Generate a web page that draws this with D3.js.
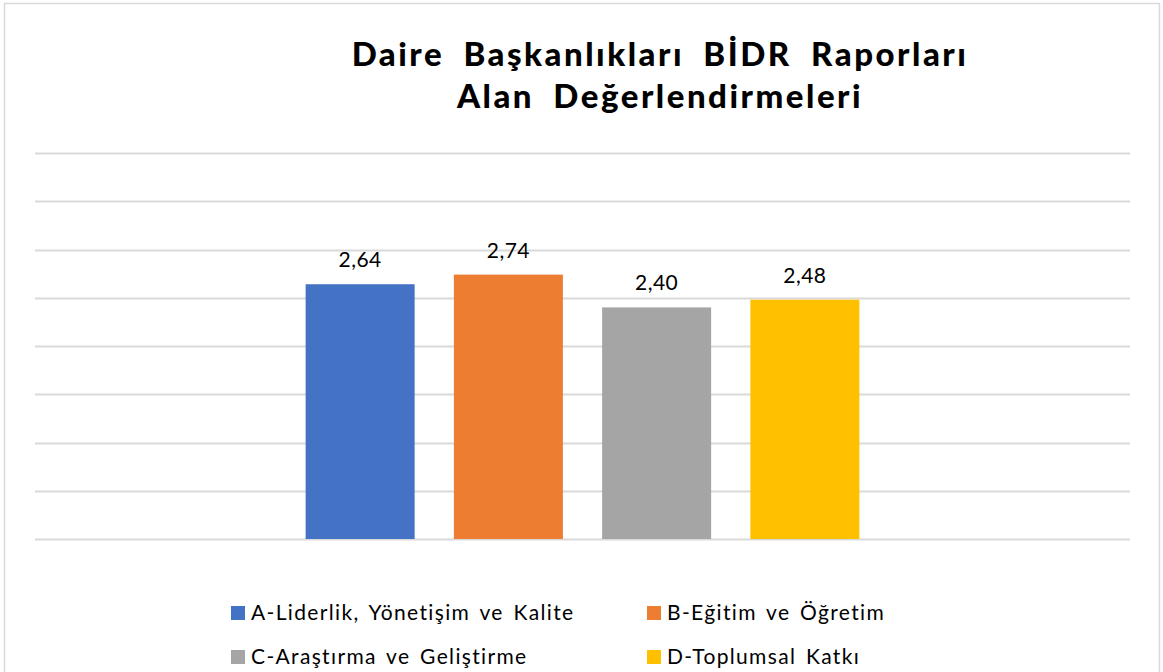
<!DOCTYPE html>
<html><head><meta charset="utf-8">
<script src="https://cdn.jsdelivr.net/npm/d3@7"></script>
<style>
body{margin:0;background:#fff;}
svg{display:block;font-family:"Lato","Open Sans",sans-serif;}
</style></head>
<body><svg id="c" width="1163" height="672"></svg>
<script>
const titleLines = ["Daire Başkanlıkları BİDR Raporları", "Alan Değerlendirmeleri"];
const categories = ["Alan"];
const seriesNames = ["A-Liderlik, Yönetişim ve Kalite", "B-Eğitim ve Öğretim", "C-Araştırma ve Geliştirme", "D-Toplumsal Katkı"];
const seriesValues = [2.64, 2.74, 2.40, 2.48];
const seriesColors = ["#4472c4", "#ed7d31", "#a5a5a5", "#ffc000"];
const yTicks = [0, 0.5, 1, 1.5, 2, 2.5, 3, 3.5, 4];

const svg = d3.select("#c");
// chart border
svg.append("rect").attr("x", 4.5).attr("y", 3.5).attr("width", 1155).attr("height", 700)
  .attr("fill", "#fff").attr("stroke", "#d9d9d9").attr("stroke-width", 1.5);

const plot = {left: 35, right: 1130, top: 153, bottom: 539};
const y = d3.scaleLinear().domain([0, 4]).range([plot.bottom, plot.top]);
const x0 = d3.scaleBand().domain(categories).range([plot.left, plot.right]).paddingOuter(0.4233);
const x1 = d3.scaleBand().domain(seriesNames).range([0, x0.bandwidth()]).paddingInner(0.2647).paddingOuter(0.1323);

// gridlines
svg.append("g").selectAll("line").data(yTicks).join("line")
  .attr("x1", plot.left).attr("x2", plot.right)
  .attr("y1", d => Math.round(y(d)) + 0.5).attr("y2", d => Math.round(y(d)) + 0.5)
  .attr("stroke", "#d9d9d9").attr("stroke-width", 2);

const data = seriesNames.map((s, i) => ({cat: categories[0], s, v: seriesValues[i], c: seriesColors[i]}));
const g = svg.append("g");
g.selectAll("rect").data(data).join("rect")
  .attr("x", d => x0(d.cat) + x1(d.s))
  .attr("width", x1.bandwidth())
  .attr("y", d => y(d.v))
  .attr("height", d => y(0) - y(d.v))
  .attr("fill", d => d.c);

g.selectAll("text").data(data).join("text")
  .attr("x", d => x0(d.cat) + x1(d.s) + x1.bandwidth() / 2)
  .attr("y", d => y(d.v) - 17)
  .attr("text-anchor", "middle")
  .attr("font-size", 21).attr("letter-spacing", 0.5).attr("fill", "#000")
  .text(d => d3.format(".2f")(d.v).replace(".", ","));

// title
svg.append("g").selectAll("text").data(titleLines).join("text")
  .attr("x", 660).attr("y", (d, i) => 66 + i * 42)
  .attr("text-anchor", "middle").attr("font-size", 33).attr("font-weight", 900)
  .attr("letter-spacing", 2.5).attr("word-spacing", 9)
  .text(d => d);

// legend
const legPos = [[231, 606], [647, 606], [231, 650], [647, 650]];
const leg = svg.append("g").selectAll("g").data(data).join("g")
  .attr("transform", (d, i) => `translate(${legPos[i][0]},${legPos[i][1]})`);
leg.append("rect").attr("width", 14).attr("height", 14).attr("fill", d => d.c);
leg.append("text").attr("x", 20).attr("y", 14).attr("font-size", 21)
  .attr("letter-spacing", 1.35).attr("word-spacing", 3)
  .attr("fill", "#000").text(d => d.s);
</script></body></html>
